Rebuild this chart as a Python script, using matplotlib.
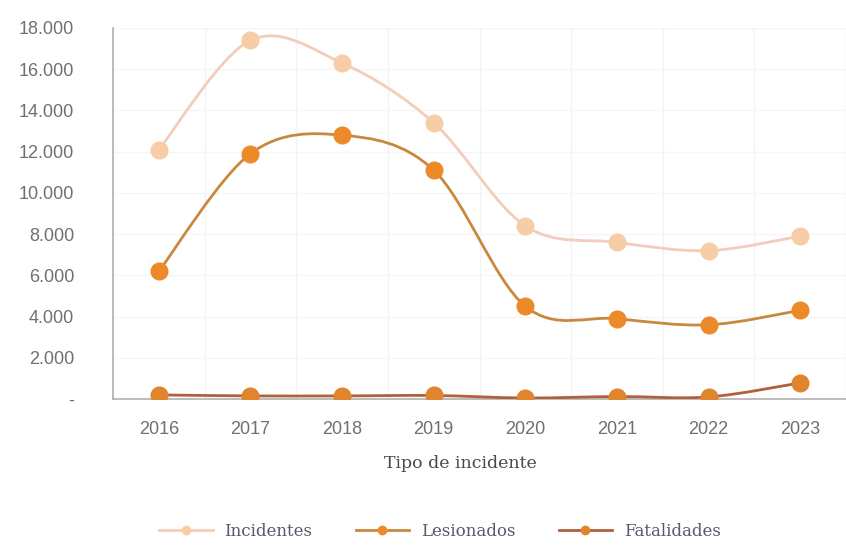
import numpy as np
import matplotlib
matplotlib.use("Agg")
import matplotlib.pyplot as plt
from matplotlib.path import Path
from matplotlib.patches import PathPatch
from matplotlib.ticker import FuncFormatter, FixedLocator
from matplotlib.lines import Line2D

years = ["2016", "2017", "2018", "2019", "2020", "2021", "2022", "2023"]
incidentes = [12100, 17400, 16300, 13400, 8400, 7600, 7200, 7900]
lesionados = [6200, 11900, 12800, 11100, 4500, 3900, 3600, 4300]
fatalidades = [200, 150, 150, 170, 50, 120, 100, 780]

series_names = ["Incidentes", "Lesionados", "Fatalidades"]
line_colors = ["#F2CDBB", "#C8883E", "#B0603A"]
marker_colors = ["#F6CDA6", "#EC8A2A", "#E0852E"]

fig = plt.figure(figsize=(8.46, 5.47), dpi=100)
ax = fig.add_axes([113/846, 1-399/547, (846-113)/846, (399-28)/547])

x = np.arange(len(years))


def smooth_path(xs, ys):
    pts = np.column_stack([xs, ys]).astype(float)
    n = len(pts)
    verts = [pts[0]]
    codes = [Path.MOVETO]
    for i in range(n - 1):
        p0 = pts[i - 1] if i > 0 else pts[i]
        p1 = pts[i]
        p2 = pts[i + 1]
        p3 = pts[i + 2] if i + 2 < n else pts[i + 1]
        c1 = p1 + (p2 - p0) / 6.0
        c2 = p2 - (p3 - p1) / 6.0
        verts += [c1, c2, p2]
        codes += [Path.CURVE4] * 3
    return Path(verts, codes)


data = [incidentes, lesionados, fatalidades]
for vals, lc, mc, z in zip(data, line_colors, marker_colors, [3, 4, 5]):
    patch = PathPatch(smooth_path(x, vals), facecolor="none", edgecolor=lc,
                      lw=2.0, zorder=z)
    ax.add_patch(patch)
    ax.plot(x, vals, linestyle="none", marker="o", markersize=12,
            markerfacecolor=mc, markeredgecolor=mc, zorder=z + 0.5)

ax.set_xlim(-0.464, 7.443)
ax.set_ylim(0, 18000)

ax.set_xticks(x)
ax.set_xticklabels(years)
yt = list(range(0, 18001, 2000))
ax.yaxis.set_major_locator(FixedLocator(yt))


def fmt(v, pos):
    if v == 0:
        return "-"
    return f"{int(v):,}".replace(",", ".")


ax.yaxis.set_major_formatter(FuncFormatter(fmt))

# grid
ax.set_xticks(np.arange(-0.5, 8, 1), minor=True)
ax.grid(True, which="minor", axis="x", color="#F3F3F3", lw=1.0)
ax.grid(True, which="major", axis="y", color="#F5F5F5", lw=1.0)
ax.set_axisbelow(True)

for s in ["top", "right"]:
    ax.spines[s].set_visible(False)
ax.spines["left"].set_color("#B0B0B0")
ax.spines["bottom"].set_color("#B0B0B0")
ax.spines["left"].set_linewidth(1.2)
ax.spines["bottom"].set_linewidth(1.2)

ax.tick_params(axis="both", which="both", length=0, labelsize=13,
               labelcolor="#707070")
ax.tick_params(axis="x", pad=16)
ax.tick_params(axis="y", pad=28)
for lab in ax.get_xticklabels() + ax.get_yticklabels():
    lab.set_fontfamily("Liberation Sans")

ax.set_xlabel("Tipo de incidente", fontsize=12.5, color="#4A4A4A",
              fontfamily="DejaVu Serif")
ax.xaxis.set_label_coords((460 - 113) / 733, -(455 - 399) / 371)

handles = [Line2D([0], [0], color=lc, lw=2, marker="o", markersize=6,
                  markerfacecolor=mc, markeredgecolor=mc)
           for lc, mc in zip(line_colors, marker_colors)]
fig.legend(handles, series_names, loc="center", bbox_to_anchor=(440/846, 1-531/547),
           ncol=3, frameon=False, prop={"family": "DejaVu Serif", "size": 12},
           labelcolor="#55596A", handlelength=3.2, columnspacing=2.6,
           handletextpad=0.7)

fig.savefig("out.png", dpi=100)
